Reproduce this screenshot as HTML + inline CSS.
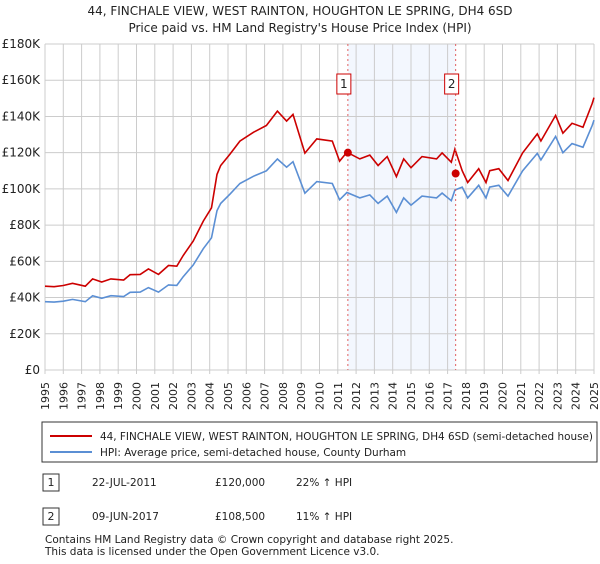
<!DOCTYPE html>
<html><head><meta charset="utf-8"><style>
body{margin:0;background:#fff;font-family:"DejaVu Sans","Liberation Sans",sans-serif;}
</style></head><body>
<svg width="600" height="560" xmlns="http://www.w3.org/2000/svg" font-family="DejaVu Sans, Liberation Sans, sans-serif">
<text x="300" y="15" text-anchor="middle" font-size="12" fill="#222">44, FINCHALE VIEW, WEST RAINTON, HOUGHTON LE SPRING, DH4 6SD</text>
<text x="300" y="32" text-anchor="middle" font-size="12" fill="#222">Price paid vs. HM Land Registry's House Price Index (HPI)</text>
<g id="plot"></g>
<rect x="42" y="422" width="555" height="40" fill="#fff" stroke="#333"/>
<line x1="50" y1="436" x2="92" y2="436" stroke="#cc0000" stroke-width="2"/>
<text x="100" y="440" font-size="10.5" fill="#222" textLength="493" lengthAdjust="spacingAndGlyphs">44, FINCHALE VIEW, WEST RAINTON, HOUGHTON LE SPRING, DH4 6SD (semi-detached house)</text>
<line x1="50" y1="452" x2="92" y2="452" stroke="#5b8fd4" stroke-width="2"/>
<text x="100" y="456" font-size="10.5" fill="#222">HPI: Average price, semi-detached house, County Durham</text>
<rect x="43" y="474" width="16" height="17" fill="#fff" stroke="#333"/>
<text x="51" y="486" font-size="11" text-anchor="middle" fill="#222">1</text>
<text x="92" y="486" font-size="10.5" fill="#222">22-JUL-2011</text>
<text x="215" y="486" font-size="10.5" fill="#222">£120,000</text>
<text x="296" y="486" font-size="10.5" fill="#222">22% ↑ HPI</text>
<rect x="43" y="508" width="16" height="17" fill="#fff" stroke="#333"/>
<text x="51" y="520" font-size="11" text-anchor="middle" fill="#222">2</text>
<text x="92" y="520" font-size="10.5" fill="#222">09-JUN-2017</text>
<text x="215" y="520" font-size="10.5" fill="#222">£108,500</text>
<text x="296" y="520" font-size="10.5" fill="#222">11% ↑ HPI</text>
<text x="45" y="543" font-size="10.5" fill="#222">Contains HM Land Registry data © Crown copyright and database right 2025.</text>
<text x="45" y="555" font-size="10.5" fill="#222">This data is licensed under the Open Government Licence v3.0.</text>
</svg>
<script>
const years=[1995,1995.5,1996,1996.5,1997.2,1997.6,1998.1,1998.6,1999.3,1999.65,2000.2,2000.65,2001.2,2001.75,2002.2,2002.55,2003.1,2003.65,2004.1,2004.4,2004.6,2005.1,2005.65,2006.4,2007.1,2007.7,2008.2,2008.55,2009.2,2009.85,2010.7,2011.1,2011.5,2012.2,2012.75,2013.2,2013.7,2014.2,2014.6,2015.0,2015.6,2016.4,2016.7,2017.2,2017.4,2017.8,2018.1,2018.7,2019.1,2019.3,2019.8,2020.3,2021.1,2021.9,2022.1,2022.9,2023.3,2023.8,2024.4,2024.9,2025.0];
const hpi=[37.7,37.5,38,39,37.7,41,39.6,41,40.5,42.9,43,45.5,43,47,46.7,51.5,58,67,73,88,92,97,103,107,110,116.5,112,115,97.6,104,103,94,98,95,96.7,92,96,87,95,91,96,95,97.7,93.5,99.4,101,95,102,95,101,102,96,110,119.6,116,129,120,125,123,135,138];
const saleYears=[2011.55,2017.44];
const salePrices=[120,108.5];
const yTicks=[0,20,40,60,80,100,120,140,160,180];
const xTicks=[1995,1996,1997,1998,1999,2000,2001,2002,2003,2004,2005,2006,2007,2008,2009,2010,2011,2012,2013,2014,2015,2016,2017,2018,2019,2020,2021,2022,2023,2024,2025];
const X=t=>45+(t-1995)*(549/30), Y=v=>370-v*(326/180);
const NS="http://www.w3.org/2000/svg", g=document.getElementById('plot');
function mk(tag,a){const e=document.createElementNS(NS,tag);for(const k in a)e.setAttribute(k,a[k]);g.appendChild(e);return e;}
function hpiAt(t){for(let i=1;i<years.length;i++)if(t<=years[i]){const f=(t-years[i-1])/(years[i]-years[i-1]);return hpi[i-1]+f*(hpi[i]-hpi[i-1]);}return hpi[hpi.length-1];}
let sh=mk('rect',{x:X(saleYears[0]),y:Y(180),width:X(saleYears[1])-X(saleYears[0]),height:Y(0)-Y(180),fill:'#eef3fd',opacity:0.7});


yTicks.forEach(v=>{let l=mk('line',{x1:45,x2:594,y1:Y(v),y2:Y(v),stroke:'#cccccc'});


let t=mk('text',{x:40,y:Y(v)+4,'text-anchor':'end','font-size':12,fill:'#222'});t.textContent=v===0?'£0':'£'+v+'K';

});
xTicks.forEach(y=>{let l=mk('line',{x1:X(y),x2:X(y),y1:Y(180),y2:Y(0)+4,stroke:'#cccccc'});


let t=mk('text',{x:0,y:0,'text-anchor':'end','font-size':11,fill:'#222',transform:'translate('+(X(y)+4)+',382) rotate(-90)'});t.textContent=y;

});
const r1=salePrices[0]/hpiAt(saleYears[0]), r2=salePrices[1]/hpiAt(saleYears[1]);
let bp='',rp='';
years.forEach((t,i)=>{bp+=(i?'L':'M')+X(t).toFixed(1)+','+Y(hpi[i]).toFixed(1);rp+=(i?'L':'M')+X(t).toFixed(1)+','+Y(hpi[i]*(t<saleYears[1]?r1:r2)).toFixed(1);});
let bl=mk('path',{d:bp,fill:'none',stroke:'#5b8fd4','stroke-width':1.6});


let rl=mk('path',{d:rp,fill:'none',stroke:'#cc0000','stroke-width':1.6});


saleYears.forEach((t,i)=>{let l=mk('line',{x1:X(t),x2:X(t),y1:Y(180),y2:Y(0),stroke:'#e06060','stroke-dasharray':'2,3'});


let c=mk('circle',{cx:X(t),cy:Y(salePrices[i]),r:4,fill:'#cc0000'});


let b=mk('rect',{x:X(t)-11,y:74,width:14,height:20,fill:'#fff',stroke:'#cc0000'});


let tx=mk('text',{x:X(t)-4,y:88,'text-anchor':'middle','font-size':12,fill:'#222'});tx.textContent=i+1;

});
</script>
</body></html>
